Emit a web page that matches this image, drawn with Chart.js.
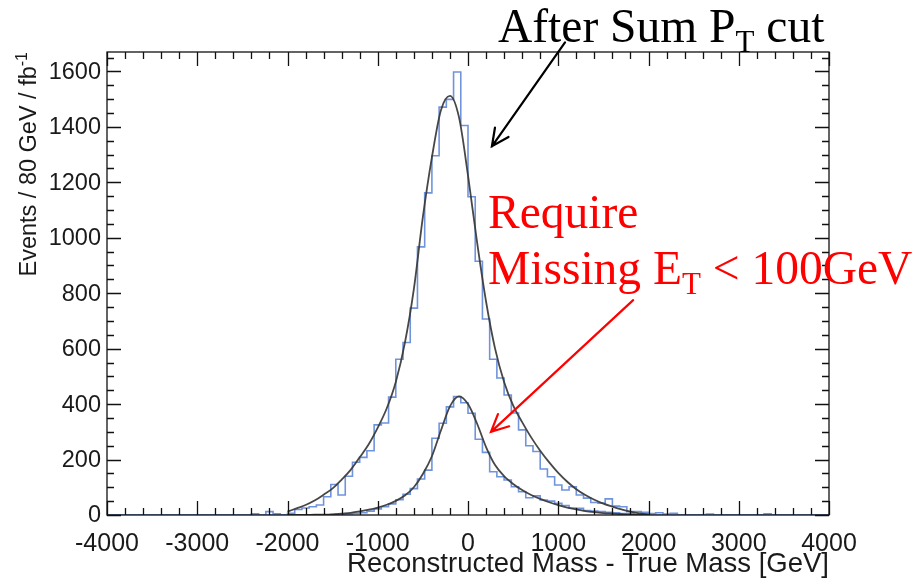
<!DOCTYPE html>
<html>
<head>
<meta charset="utf-8">
<script src="https://cdn.jsdelivr.net/npm/chart.js@4.4.1/dist/chart.umd.min.js"></script>
<style>
  html, body { margin: 0; background: #fff; }
  #wrap { width: 918px; height: 578px; }
</style>
</head>
<body>
<div id="wrap"><canvas id="massChart" width="918" height="578"></canvas></div>
<script>
// Reconstructed - true mass, 80 GeV bins from -4000 to 4000 GeV
const binLow = -4000;
const binWidth = 80;

// Events per bin after the Sum pT cut
const afterSumPt = [
    0, 0, 0, 0, 0, 0, 0, 0, 0, 0,
    0, 0, 0, 0, 0, 0, 0, 0, 0, 0,
    4, 0, 12, 4, 0, 6, 20, 25, 30, 36,
    66, 110, 72, 140, 190, 208, 232, 325, 332, 425,
    562, 622, 746, 967, 1162, 1296, 1471, 1499, 1598, 1405,
    1148, 915, 707, 562, 494, 433, 368, 307, 250, 229,
    166, 138, 108, 90, 102, 72, 61, 45, 43, 58,
    32, 30, 12, 12, 10, 5, 8, 3, 6, 0,
    0, 0, 0, 3, 0, 0, 0, 0, 0, 0,
    0, 4, 0, 0, 0, 0, 0, 0, 0, 0
];

// Events per bin with missing ET < 100 GeV
const metCut = [
    0, 0, 0, 0, 0, 0, 0, 0, 0, 0,
    0, 0, 0, 0, 0, 0, 0, 0, 0, 0,
    0, 0, 0, 0, 0, 0, 0, 0, 0, 0,
    0, 2, 0, 4, 6, 8, 14, 22, 30, 40,
    55, 75, 95, 130, 162, 277, 331, 390, 427, 405,
    367, 273, 226, 156, 138, 126, 102, 84, 62, 69,
    54, 50, 42, 34, 25, 24, 16, 14, 12, 10,
    8, 5, 4, 2, 6, 0, 0, 0, 0, 0,
    0, 0, 0, 0, 0, 0, 0, 0, 0, 0,
    0, 0, 0, 0, 0, 0, 0, 0, 0, 0
];

// Fit curves, sampled every 100 GeV over the fit range
const fitMass = [
    -2000, -1900, -1800, -1700, -1600, -1500, -1400, -1300, -1200, -1100,
    -1000, -900, -800, -700, -600, -500, -400, -300, -200, -100,
    0, 100, 200, 300, 400, 500, 600, 700, 800, 900,
    1000, 1100, 1200, 1300, 1400, 1500, 1600, 1700, 1800, 1900, 2000
];
const fitAfterSumPt = [
    12, 24, 36, 52, 73, 96, 128, 163, 208, 255,
    315, 385, 480, 620, 815, 1075, 1290, 1460, 1512, 1435,
    1225, 985, 770, 600, 480, 395, 335, 280, 232, 190,
    152, 120, 93, 72, 55, 41, 30, 20, 12, 6, 2
];
const fitMetCut = [
    0, 0, 0, 1, 1, 2, 5, 8, 13, 19,
    27, 37, 51, 70, 100, 148, 212, 305, 392, 428,
    400, 330, 245, 180, 140, 112, 90, 72, 58, 46,
    36, 27, 20, 14, 10, 7, 5, 3, 1, 0, 0
];

// Axis tick labels
const xTickValues = [-4000, -3000, -2000, -1000, 0, 1000, 2000, 3000, 4000];
const yTickValues = [0, 200, 400, 600, 800, 1000, 1200, 1400, 1600];

// Arrow annotations, in data units: [fromMass, fromEvents, toMass, toEvents]
const sumPtArrow = [1075, 1705, 265, 1330];
const metArrow = [1830, 775, 255, 300];

const histColor = '#7094dc';
const fitColor = 'rgba(55,55,55,0.92)';

// one point per left bin edge plus the closing right edge
function histPoints(values) {
    const pts = values.map((v, i) => ({ x: binLow + i * binWidth, y: v }));
    pts.push({ x: binLow + values.length * binWidth, y: values[values.length - 1] });
    return pts;
}

function curvePoints(values) {
    return fitMass.map((m, i) => ({ x: m, y: values[i] }));
}

// draw text made of pieces with their own size / vertical shift (sub/superscripts)
function drawPieces(ctx, x, y, pieces, family, color) {
    ctx.fillStyle = color;
    ctx.textBaseline = 'alphabetic';
    ctx.textAlign = 'left';
    pieces.forEach(p => {
        ctx.font = p.size + 'px ' + family;
        ctx.fillText(p.t, x, y + (p.dy || 0));
        x += ctx.measureText(p.t).width;
    });
}

function piecesWidth(ctx, pieces, family) {
    let w = 0;
    pieces.forEach(p => {
        ctx.font = p.size + 'px ' + family;
        w += ctx.measureText(p.t).width;
    });
    return w;
}

function drawArrow(ctx, xs, ys, coords, color) {
    const x1 = xs.getPixelForValue(coords[0]), y1 = ys.getPixelForValue(coords[1]);
    const x2 = xs.getPixelForValue(coords[2]), y2 = ys.getPixelForValue(coords[3]);
    const ang = Math.atan2(y2 - y1, x2 - x1);
    const head = 19, spread = 0.45;
    ctx.save();
    ctx.strokeStyle = color;
    ctx.lineWidth = 2.2;
    ctx.lineCap = 'round';
    ctx.beginPath();
    ctx.moveTo(x1, y1);
    ctx.lineTo(x2, y2);
    ctx.moveTo(x2 - head * Math.cos(ang - spread), y2 - head * Math.sin(ang - spread));
    ctx.lineTo(x2, y2);
    ctx.lineTo(x2 - head * Math.cos(ang + spread), y2 - head * Math.sin(ang + spread));
    ctx.stroke();
    ctx.restore();
}

// ROOT-like frame: box, inward ticks on all four sides, labels and titles
const rootFrame = {
    id: 'rootFrame',
    afterDatasetsDraw(chart) {
        const ctx = chart.ctx;
        const xs = chart.scales.x, ys = chart.scales.y;
        const a = chart.chartArea;
        const sans = '"Liberation Sans", Arial, sans-serif';
        const serif = '"Liberation Serif", "Times New Roman", serif';

        ctx.save();
        ctx.strokeStyle = '#111';
        ctx.lineWidth = 1.3;
        ctx.strokeRect(a.left, a.top, a.right - a.left, a.bottom - a.top);

        ctx.beginPath();
        for (let m = xs.min; m <= xs.max; m += 200) {
            const px = Math.round(xs.getPixelForValue(m)) + 0.5;
            const len = m % 1000 === 0 ? 14 : 7;
            ctx.moveTo(px, a.bottom); ctx.lineTo(px, a.bottom - len);
            ctx.moveTo(px, a.top); ctx.lineTo(px, a.top + len);
        }
        for (let v = 0; v <= ys.max; v += 50) {
            const py = Math.round(ys.getPixelForValue(v)) + 0.5;
            const len = v % 200 === 0 ? 14 : 7;
            ctx.moveTo(a.left, py); ctx.lineTo(a.left + len, py);
            ctx.moveTo(a.right, py); ctx.lineTo(a.right - len, py);
        }
        ctx.stroke();

        // tick labels
        ctx.fillStyle = '#1a1a1a';
        ctx.font = '25px ' + sans;
        ctx.textAlign = 'center';
        ctx.textBaseline = 'top';
        xTickValues.forEach(m => ctx.fillText(String(m), xs.getPixelForValue(m), a.bottom + 17));
        ctx.font = '23.5px ' + sans;
        ctx.textAlign = 'right';
        ctx.textBaseline = 'middle';
        yTickValues.forEach(v => ctx.fillText(String(v), a.left - 6, ys.getPixelForValue(v) + 1));

        // axis titles, right-aligned to the frame ends
        ctx.font = '27.5px ' + sans;
        ctx.textAlign = 'right';
        ctx.textBaseline = 'alphabetic';
        ctx.fillText('Reconstructed Mass - True Mass [GeV]', a.right, 572);

        const yTitle = [
            { t: 'Events / 80 GeV / fb', size: 23.5 },
            { t: '-1', size: 16, dy: -9 }
        ];
        ctx.save();
        ctx.translate(36, a.top);
        ctx.rotate(-Math.PI / 2);
        drawPieces(ctx, -piecesWidth(ctx, yTitle, sans), 0, yTitle, sans, '#1a1a1a');
        ctx.restore();

        // annotations
        drawPieces(ctx, 498, 42, [
            { t: 'After Sum P', size: 47.5 },
            { t: 'T', size: 31, dy: 10 },
            { t: ' cut', size: 47.5 }
        ], serif, '#000');
        drawPieces(ctx, 488, 228, [{ t: 'Require', size: 47.5 }], serif, '#ff0000');
        drawPieces(ctx, 488, 284, [
            { t: 'Missing E', size: 47.5 },
            { t: 'T', size: 31, dy: 10 },
            { t: ' < 100GeV', size: 47.5 }
        ], serif, '#ff0000');

        drawArrow(ctx, xs, ys, sumPtArrow, '#000');
        drawArrow(ctx, xs, ys, metArrow, '#ff0000');
        ctx.restore();
    }
};

const ctx = document.getElementById('massChart').getContext('2d');
new Chart(ctx, {
    type: 'line',
    data: {
        datasets: [
            {
                label: 'After Sum PT cut',
                data: histPoints(afterSumPt),
                stepped: 'before',
                borderColor: histColor,
                borderWidth: 1.6,
                pointRadius: 0,
                fill: false,
                order: 3
            },
            {
                label: 'Missing ET < 100 GeV',
                data: histPoints(metCut),
                stepped: 'before',
                borderColor: histColor,
                borderWidth: 1.6,
                pointRadius: 0,
                fill: false,
                order: 2
            },
            {
                label: 'Fit, after Sum PT cut',
                data: curvePoints(fitAfterSumPt),
                borderColor: fitColor,
                borderWidth: 1.8,
                cubicInterpolationMode: 'monotone',
                pointRadius: 0,
                fill: false,
                order: 1
            },
            {
                label: 'Fit, missing ET < 100 GeV',
                data: curvePoints(fitMetCut),
                borderColor: fitColor,
                borderWidth: 1.8,
                cubicInterpolationMode: 'monotone',
                pointRadius: 0,
                fill: false,
                order: 0
            }
        ]
    },
    options: {
        responsive: false,
        animation: false,
        devicePixelRatio: 1,
        layout: { padding: { top: 52, right: 89, left: 0, bottom: 0 } },
        plugins: {
            legend: { display: false },
            tooltip: { enabled: false }
        },
        scales: {
            x: {
                type: 'linear',
                min: -4000,
                max: 4000,
                grid: { display: false, drawTicks: false },
                border: { display: false },
                ticks: { display: false },
                afterFit(scale) { scale.height = 63; }
            },
            y: {
                type: 'linear',
                min: 0,
                max: 1670,
                grid: { display: false, drawTicks: false },
                border: { display: false },
                ticks: { display: false },
                afterFit(scale) { scale.width = 107; }
            }
        }
    },
    plugins: [rootFrame]
});
</script>
</body>
</html>
